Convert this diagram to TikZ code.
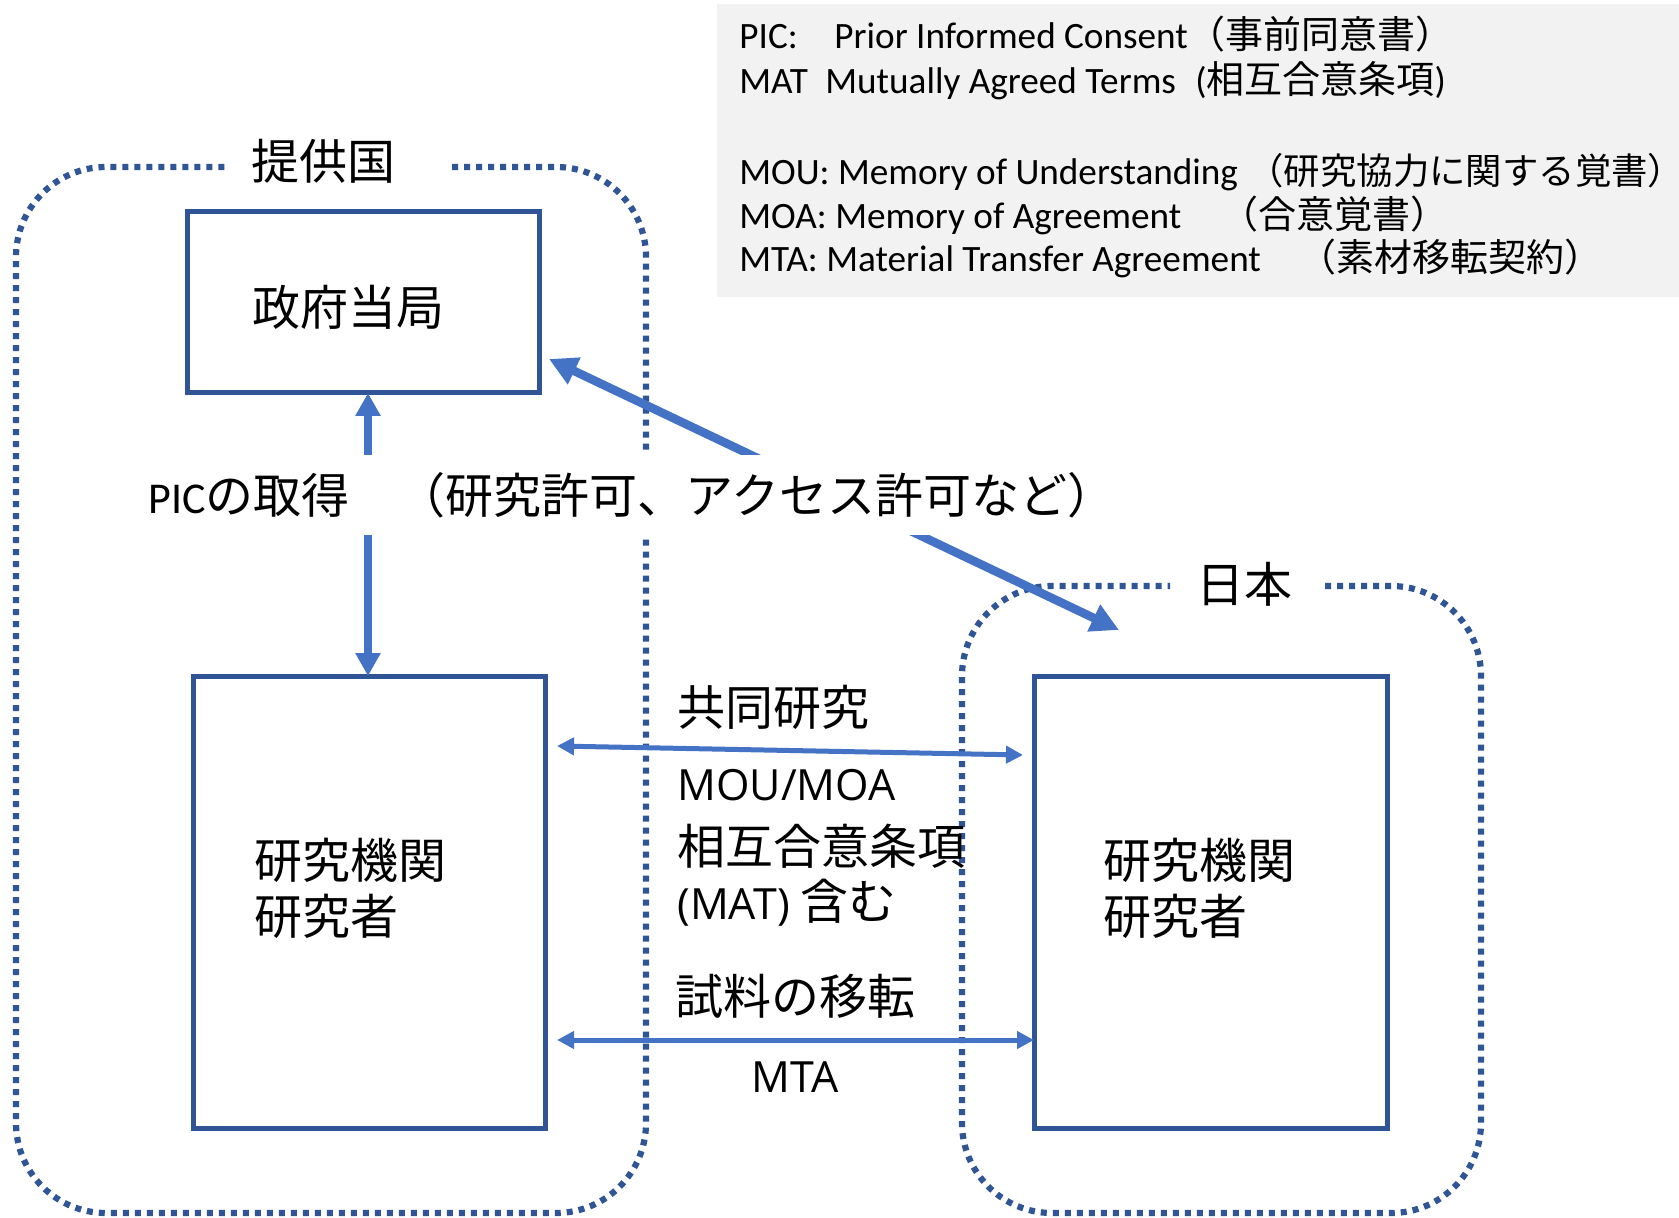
\documentclass[tikz,border=0pt]{standalone}
\usepackage{fontspec}
\setmainfont{Carlito}
\newfontfamily\jp{Noto Sans CJK JP}
\newfontfamily\osans{Open Sans}
\usetikzlibrary{arrows.meta}
\definecolor{boxblue}{HTML}{2F5597}
\definecolor{arrblue}{HTML}{4472C4}
\definecolor{legbg}{HTML}{F2F2F2}
\newcommand\jpL{\jp\fontsize{24}{28}\selectfont}
\newcommand\jpS{\jp\fontsize{19}{22}\selectfont}
\begin{document}
\begin{tikzpicture}[x=0.5pt,y=-0.5pt,
  region/.style={draw=boxblue, line width=3.1pt, dash pattern=on 3pt off 3pt, rounded corners=45pt},
  boxnode/.style={draw=boxblue, line width=2.5pt, fill=white, inner sep=0pt},
  jtxt/.style={font=\jpL, inner sep=0pt},
  ostxt/.style={font=\osans\fontsize{21.5}{26}\selectfont, inner sep=0pt},
  legtxt/.style={font=\fontsize{18.6}{22}\selectfont, inner sep=0pt, anchor=base west},
  legjp/.style={font=\jpS, inner sep=0pt, anchor=base west},
  varrow/.style={draw=arrblue, line width=4pt, {Triangle[length=11.5pt,width=12pt]}-{Triangle[length=11.5pt,width=12pt]}},
  darrow/.style={draw=arrblue, line width=4.3pt, {Triangle[length=14pt,width=14pt]}-{Triangle[length=14pt,width=14pt]}},
  harrow/.style={draw=arrblue, line width=2.5pt, {Triangle[length=8.5pt,width=8.5pt]}-{Triangle[length=8.5pt,width=8.5pt]}}
]
\useasboundingbox (0,0) rectangle (1679,1218);
\fill[white] (0,0) rectangle (1679,1218);

% regions
\draw[region] (452,167) -- (646,167) -- (646,1213) -- (16,1213) -- (16,167) -- (228,167);
\draw[region] (1325,586) -- (1481,586) -- (1481,1213) -- (962,1213) -- (962,586) -- (1170,586);
\node[jtxt] (teikyo) at (323,161) {提供国};
\node[jtxt] (nihon) at (1244,584) {日本};

% boxes
\node[boxnode, minimum width=176pt, minimum height=90.5pt] (gov) at (363,302) {};
\node[boxnode, minimum width=176pt, minimum height=226pt] (lres) at (369,902) {};
\node[boxnode, minimum width=176.5pt, minimum height=226pt] (rres) at (1210.5,902) {};
\node[jtxt] (govt) at (348,307) {政府当局};
\node[jtxt, anchor=west, align=left] (lrest) at (254,888) {研究機関\\研究者};
\node[jtxt, anchor=west, align=left] (rrest) at (1103,888) {研究機関\\研究者};

% arrows
\coordinate (vtop) at (368,393);
\coordinate (vbot) at (368,676);
\draw[varrow] (vtop) -- (vbot);
\coordinate (dtop) at (549,359);
\coordinate (dbot) at (1119,630);
\draw[darrow] (dtop) -- (dbot);
\coordinate (h1l) at (557,746);
\coordinate (h1r) at (1023,755);
\draw[harrow] (h1l) -- (h1r);
\coordinate (h2l) at (557,1040);
\coordinate (h2r) at (1034,1040);
\draw[harrow] (h2l) -- (h2r);

% label over arrows
\node[fill=white, anchor=west, minimum height=40pt, inner xsep=2pt, inner ysep=0pt] (pic) at (144,495)
  {\fontsize{22}{26}\selectfont PIC{\jpL の取得　（研究許可、アクセス許可など）}};

% middle texts
\node[jtxt, anchor=west] (kyodo) at (677,707) {共同研究};
\node[ostxt, anchor=west] (mou) at (677,785) {MOU/MOA};
\node[jtxt, anchor=west] (sogo) at (677,846) {相互合意条項};
\node[ostxt, anchor=west] (matinc) at (677,903) {(MAT) {\jpL 含む}};
\node[jtxt, anchor=west] (shiryo) at (675,996) {試料の移転};
\node[ostxt] (mta) at (795,1077) {MTA};

% legend
\fill[legbg] (717,4) rectangle (1679,297);
\node[legtxt] (l1a) at (739,49) {PIC:};
\node[legtxt] (l1b) at (834,49) {Prior Informed Consent{\jpS （事前同意書）}};
\node[legtxt] (l2a) at (739,94) {MAT};
\node[legtxt] (l2b) at (825,94) {Mutually Agreed Terms};
\node[legtxt] (l2c) at (1195,94) {({\jpS 相互合意条項})};
\node[legtxt] (l3a) at (739,185) {MOU: Memory of Understanding};
\node[legjp, font=\jp\fontsize{18.2}{22}\selectfont] (l3b) at (1247,185) {（研究協力に関する覚書\makebox[0.45em][l]{）}};
\node[legjp] (l4b) at (1220,229) {（合意覚書）};
\node[legtxt] (l4a) at (739,229) {MOA: Memory of Agreement};
\node[legtxt] (l5a) at (739,272) {MTA: Material Transfer Agreement};
\node[legjp] (l5b) at (1298,272) {（素材移転契約）};
\end{tikzpicture}
\end{document}
